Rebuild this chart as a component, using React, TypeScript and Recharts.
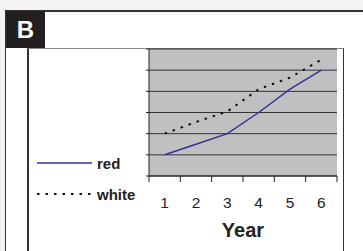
import React from 'react';
import { LineChart, Line, XAxis, YAxis, CartesianGrid, Label } from 'recharts';

const years = [1, 2, 3, 4, 5, 6];
const redValues = [1, 1.5, 2, 3, 4.1, 5];
const whiteValues = [2, 2.55, 3.05, 4.1, 4.65, 5.5];
const yTicks = [0, 1, 2, 3, 4, 5, 6];
const bandEdges = [0.5, 1.5, 2.5, 3.5, 4.5, 5.5, 6.5];

const seriesInfo = [
  { key: 'red', name: 'red', color: '#333399', dash: undefined as string | undefined, width: 1.5 },
  { key: 'white', name: 'white', color: '#111111', dash: '2.5 6', width: 2 },
];

const data = years.map((y, i) => ({ year: y, red: redValues[i], white: whiteValues[i] }));

const FONT = '"Liberation Sans", Arial, sans-serif';

const NoTick = () => <g />;

// eslint-disable-next-line @typescript-eslint/no-explicit-any
const YearTick = (props: any) => (
  <text x={props.x} y={props.y} dy={11} textAnchor="middle" fontSize={15.5} fill="#222" fontFamily={FONT}>
    {props.payload.value}
  </text>
);

export default function App() {
  return (
    <div style={{ position: 'fixed', left: 0, top: 0, width: 363, height: 251, background: '#f3f3f3', overflow: 'hidden', fontFamily: FONT }}>
      {/* outer frame */}
      <div style={{ position: 'absolute', left: 5, top: 10, width: 400, height: 300, background: '#fff', borderTop: '2px solid #333', borderLeft: '1px solid #333' }} />
      {/* panel letter */}
      <div style={{ position: 'absolute', left: 6, top: 11, width: 39, height: 37, background: '#231f20', color: '#fff', fontSize: 24, fontWeight: 'bold', lineHeight: '37px', textAlign: 'center' }}>B</div>
      {/* inner box */}
      <div style={{ position: 'absolute', left: 27, top: 48, width: 314, height: 220, borderTop: '1px solid #888', borderLeft: '2px solid #333', borderRight: '1.5px solid #333' }} />

      <div style={{ position: 'absolute', left: 0, top: 0 }}>
        <LineChart width={363} height={251} data={data} margin={{ top: 49, right: 26, bottom: 0, left: 0 }}>
          <CartesianGrid xAxisId="a" horizontal vertical={false} fill="#c0c0c0" stroke="#333" strokeWidth={1} fillOpacity={1} />
          <YAxis
            type="number" domain={[0, 6]} ticks={yTicks} width={149} interval={0}
            tick={NoTick} tickSize={3} axisLine={{ stroke: '#222' }} tickLine={{ stroke: '#222' }}
          />
          <XAxis
            xAxisId="b" type="number" dataKey="year" domain={[0.5, 6.5]} ticks={years} interval={0}
            height={69} axisLine={false} tickLine={false} tickSize={0} tickMargin={15}
            tick={YearTick}
          >
            <Label value="Year" position="insideTop" offset={41} style={{ fontSize: 20, fontWeight: 'bold', fill: '#222', fontFamily: FONT }} />
          </XAxis>
          <XAxis
            xAxisId="a" type="number" dataKey="year" domain={[0.5, 6.5]} ticks={bandEdges} interval={0}
            height={6} tick={NoTick} tickSize={6} axisLine={{ stroke: '#222' }} tickLine={{ stroke: '#222' }}
          />
          {seriesInfo.map(s => (
            <Line
              key={s.key} xAxisId="a" type="linear" dataKey={s.key} stroke={s.color}
              strokeWidth={s.width} strokeDasharray={s.dash} dot={false} activeDot={false}
              isAnimationActive={false}
            />
          ))}
        </LineChart>
      </div>

      {/* legend */}
      {seriesInfo.map((s, i) => (
        <div key={s.key} style={{ position: 'absolute', left: 37, top: 154 + i * 31, height: 18, display: 'flex', alignItems: 'center' }}>
          <svg width={56} height={18}>
            <line x1={0} y1={9} x2={55} y2={9} stroke={s.color} strokeWidth={s.width} strokeDasharray={s.dash} />
          </svg>
          <span style={{ marginLeft: 4, fontSize: 15, fontWeight: 'bold', color: '#222' }}>{s.name}</span>
        </div>
      ))}
    </div>
  );
}
